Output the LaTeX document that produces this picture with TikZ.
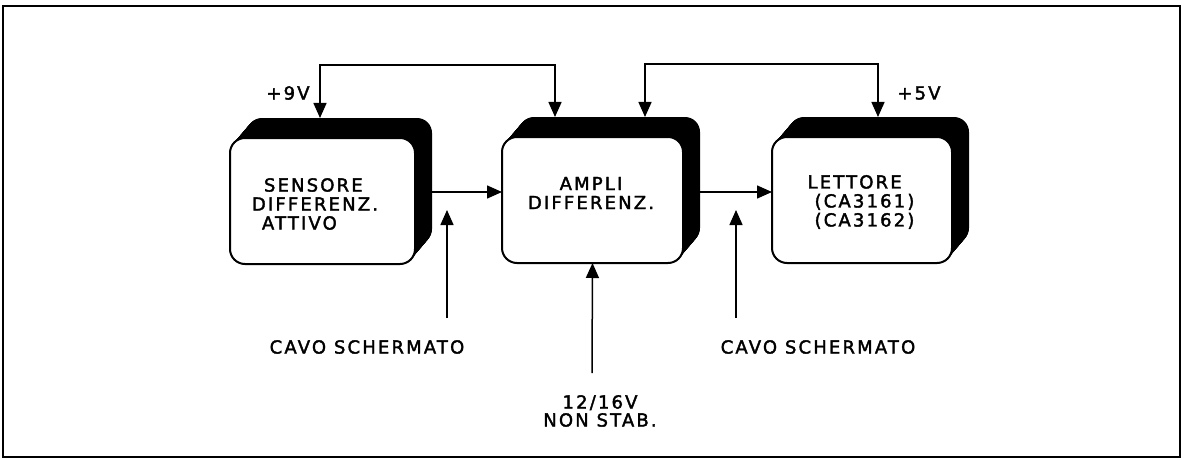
\documentclass[tikz,border=0pt]{standalone}
\usepackage{fontspec}
\newfontfamily\plotfont[LetterSpace=12,FakeBold=2]{DejaVu Sans}
\usetikzlibrary{arrows.meta,backgrounds,calc}
\begin{document}
\begin{tikzpicture}[x=1pt,y=-1pt,
  box/.style={draw=black, line width=2pt, fill=white, rounded corners=15pt,
    minimum width=#1, minimum height=126pt, inner sep=0pt, outer sep=0pt},
  ghost/.style={minimum width=#1, minimum height=126pt, inner sep=0pt, outer sep=0pt},
  wire/.style={line width=1.5pt},
  arr/.style={wire, -{Triangle[length=15pt,width=13pt]}},
  arrb/.style={wire, {Triangle[length=15pt,width=13pt]}-{Triangle[length=15pt,width=13pt]}},
  lbl/.style={font=\plotfont\fontsize{18}{19}\selectfont, inner sep=0pt},
]
\useasboundingbox (0,0) rectangle (1187,460);
\draw[line width=2pt] (3,6) rectangle (1180,457);

% front boxes
\node[box=185pt] (s1) at (322.5,201) {};
\node[box=181pt] (s2) at (592.5,200) {};
\node[box=180pt] (s3) at (862,200) {};
% back faces (extrusion)
\node[ghost=185pt] (s1b) at ($(s1)+(17,-20)$) {};
\node[ghost=181pt] (s2b) at ($(s2)+(17,-20)$) {};
\node[ghost=180pt] (s3b) at ($(s3)+(17,-20)$) {};
\begin{scope}[on background layer]
  \foreach \b in {s1,s2,s3}{
    \foreach \t in {0,...,40}{
      \fill[black, rounded corners=15pt]
        ($(\b.south west)+(\t*0.425,-\t*0.5)$) rectangle ($(\b.north east)+(\t*0.425,-\t*0.5)$);
    }
  }
\end{scope}

% box texts
\node[lbl, align=left] (t1) at (315,204) {\hspace*{12pt}SENSORE\\DIFFERENZ.\\\hspace*{10pt}ATTIVO};
\node[lbl, align=center] (t2) at (591,193) {AMPLI\\DIFFERENZ.};
\node[lbl, align=left] (t3) at (861,202) {LETTORE\\\hspace*{7pt}(CA3161)\\\hspace*{7pt}(CA3162)};

% labels
\node[lbl] (p9) at (288,93) {+9V};
\node[lbl] (p5) at (919,93) {+5V};
\node[lbl] (cs1) at (367,347) {CAVO SCHERMATO};
\node[lbl] (cs2) at (818,347) {CAVO SCHERMATO};
\node[lbl, align=center, font=\plotfont\fontsize{18}{18}\selectfont] (nst) at (600,411) {12/16V\\NON STAB.};

% coordinates
\coordinate (w1a) at (320,65);
\coordinate (w1b) at (555,65);
\coordinate (w2a) at (645,64);
\coordinate (w2b) at (878,64);
\coordinate (y192) at (0,192);
\coordinate (a1s) at (447,318);
\coordinate (a1e) at (447,210);
\coordinate (a2s) at (736,318);
\coordinate (a2e) at (736,210);
\coordinate (a3s) at (592,373);

% connectors
\draw[arrb] (s1b.north -| w1a) -- (w1a) -- (w1b) -- (s2b.north -| w1b);
\draw[arrb] (s2b.north -| w2a) -- (w2a) -- (w2b) -- (s3b.north -| w2b);
\draw[arr] (s1b.east |- y192) -- (s2.west |- y192);
\draw[arr] (s2b.east |- y192) -- (s3.west |- y192);
\draw[arr] (a1s) -- (a1e);
\draw[arr] (a2s) -- (a2e);
\draw[arr] (a3s) -- (s2.south);
\end{tikzpicture}
\end{document}
